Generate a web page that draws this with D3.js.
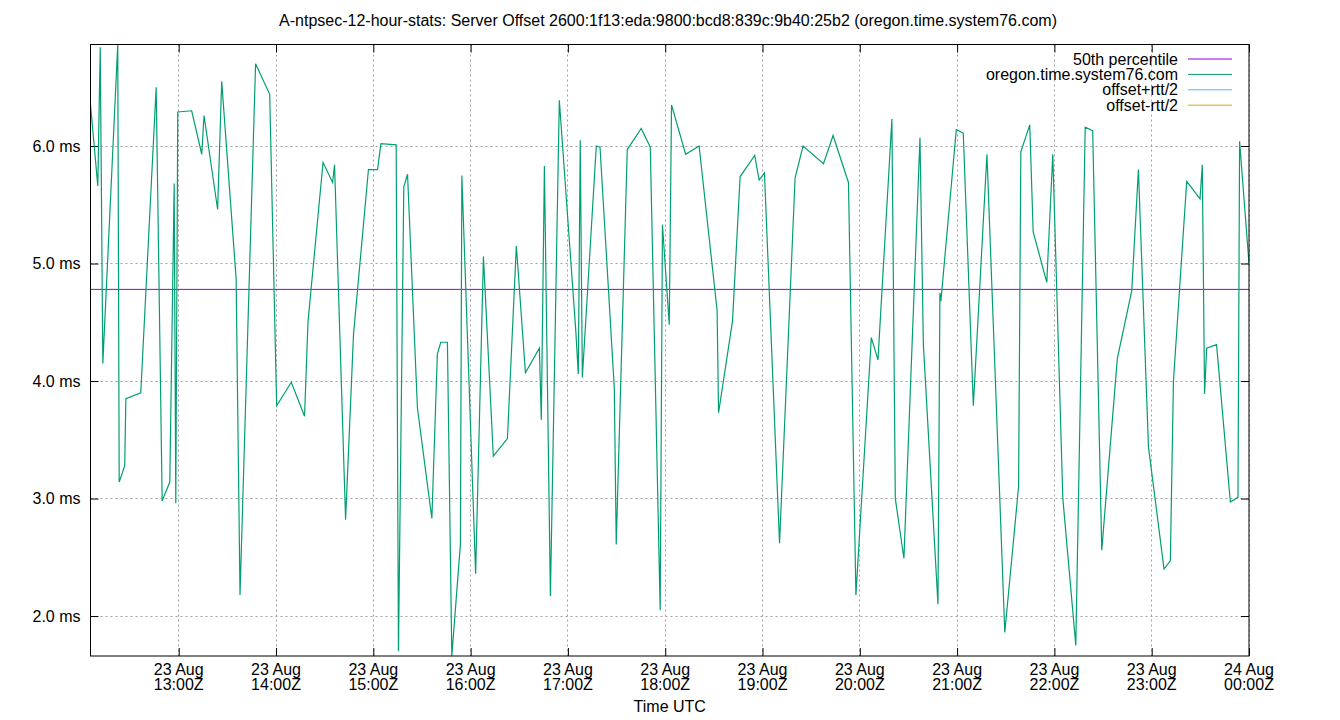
<!DOCTYPE html>
<html>
<head>
<meta charset="utf-8">
<script src="https://cdn.jsdelivr.net/npm/d3@7"></script>
<style>
body { margin: 0; background: #fff; }
text { font-family: "Liberation Sans", Arial, sans-serif; font-size: 16px; fill: #000; }
</style>
</head>
<body>
<script>
// minutes after 23 Aug 12:00Z, and offset in ms
var offsetMin = [5.6, 10.1, 11.6, 13.2, 22.4, 23.3, 26.7, 27.4, 36.6, 46.1,
  49.8, 54.5, 57.2, 58.2, 59.4, 68.0, 74.2, 75.6, 84.0, 86.5,
  95.4, 97.8, 107.4, 116.1, 120.4, 129.4, 137.6, 139.7, 149.0, 154.9,
  156.1, 162.9, 167.8, 177.0, 182.6, 184.7, 194.1, 195.5, 198.8, 201.1,
  207.2, 216.1, 219.5, 221.6, 225.7, 228.4, 233.7, 234.6, 243.1, 247.9,
  254.0, 262.7, 268.2, 273.8, 282.4, 283.6, 285.5, 289.2, 294.7, 304.8,
  306.4, 307.6, 308.9, 317.5, 319.8, 328.6, 329.8, 336.6, 345.2, 350.8,
  356.9, 358.3, 362.5, 363.9, 372.6, 380.9, 392.0, 392.9, 401.5, 406.2,
  415.2, 417.9, 421.2, 430.5, 440.1, 445.0, 457.6, 463.5, 473.0, 477.6,
  487.1, 491.2, 499.8, 501.9, 507.2, 517.1, 519.2, 528.2, 529.4, 530.0,
  539.5, 543.8, 550.0, 558.4, 569.4, 577.9, 579.3, 584.8, 586.9, 595.3,
  599.0, 605.2, 613.2, 619.0, 623.6, 629.2, 638.8, 647.7, 651.8, 658.0,
  667.6, 671.5, 673.4, 681.6, 689.8, 691.2, 692.6, 693.9, 700.0, 708.5,
  713.2, 714.2, 720.0];
var offsetMs = [6.35, 5.66, 6.84, 4.15, 6.864, 3.14, 3.28, 3.85, 3.90, 6.50,
  2.98, 3.14, 5.68, 2.96, 6.29, 6.30, 5.93, 6.26, 5.46, 6.55,
  4.87, 2.18, 6.70, 6.44, 3.79, 3.99, 3.70, 4.50, 5.86, 5.69,
  5.84, 2.82, 4.40, 5.80, 5.80, 6.02, 6.01, 1.70, 5.65, 5.76,
  3.77, 2.83, 4.23, 4.33, 4.33, 1.66, 2.61, 5.75, 2.36, 5.06,
  3.36, 3.51, 5.15, 4.07, 4.28, 3.67, 5.83, 2.17, 6.39, 4.44,
  4.06, 6.05, 4.03, 6.00, 5.99, 3.94, 2.61, 5.97, 6.15, 5.99,
  2.05, 5.33, 4.48, 6.35, 5.93, 6.00, 4.60, 3.73, 4.51, 5.74,
  5.92, 5.71, 5.77, 2.62, 5.73, 6.00, 5.85, 6.09, 5.69, 2.18,
  4.37, 4.18, 6.23, 3.00, 2.49, 6.07, 4.31, 2.10, 4.75, 4.68,
  6.14, 6.11, 3.79, 5.93, 1.86, 3.10, 5.95, 6.18, 5.27, 4.84,
  5.93, 3.00, 1.75, 6.16, 6.13, 2.56, 4.19, 4.77, 5.80, 3.44,
  2.40, 2.47, 4.00, 5.70, 5.55, 5.84, 3.89, 4.28, 4.31, 2.97,
  3.01, 6.04, 5.00];
var medianMs = 4.78;
var yTicks = [2, 3, 4, 5, 6];
var legendLabels = ["50th percentile", "oregon.time.system76.com", "offset+rtt/2", "offset-rtt/2"];
var legendColors = ["#9400d3", "#009e73", "#56b4e9", "#e69f00"];
var titleText = "A-ntpsec-12-hour-stats: Server Offset 2600:1f13:eda:9800:bcd8:839c:9b40:25b2 (oregon.time.system76.com)";

var margin = {top: 44.5, right: 91, bottom: 64, left: 90.5};
var width = 1340 - margin.left - margin.right;
var height = 720 - margin.top - margin.bottom;

var t0 = Date.UTC(2023, 7, 23, 12, 0, 0);
var times = offsetMin.map(function(m) { return new Date(t0 + m * 60000); });

var xScale = d3.scaleUtc().domain(d3.extent(times)).range([0, width]);
var yScale = d3.scaleLinear().domain(d3.extent(offsetMs)).range([height, 0]);

var svg = d3.select("body").append("svg")
.attr("width", 1340)
.attr("height", 720);

svg.append("text")
.attr("x", 668)
.attr("y", 26)
.attr("text-anchor", "middle")
.text(titleText);

var mySVG = svg.append("g")
.attr("transform", "translate(" + margin.left + "," + margin.top + ")");

var xTicks = xScale.ticks(d3.utcHour.every(1));

// grid
mySVG.append("g").selectAll("line.gx").data(xTicks).enter().append("line")
.attr("x1", function(d) { return Math.round(xScale(d)); })
.attr("x2", function(d) { return Math.round(xScale(d)); })
.attr("y1", 0).attr("y2", height)
.attr("stroke", "#a0a0a0").attr("stroke-width", 1).attr("stroke-dasharray", "2,3");
mySVG.append("g").selectAll("line.gy").data(yTicks).enter().append("line")
.attr("y1", function(d) { return Math.round(yScale(d)); })
.attr("y2", function(d) { return Math.round(yScale(d)); })
.attr("x1", 0).attr("x2", width)
.attr("stroke", "#a0a0a0").attr("stroke-width", 1).attr("stroke-dasharray", "2,3");

// axes (ticks inside, mirrored)
var xAxis = d3.axisBottom(xScale).tickValues(xTicks).tickSize(-8).tickFormat("");
var xAxisGroup = mySVG.append("g").attr("transform", "translate(0," + height + ")").call(xAxis);
var xAxisTop = mySVG.append("g").call(d3.axisTop(xScale).tickValues(xTicks).tickSize(-8).tickFormat(""));
var yAxisGroup = mySVG.append("g").call(d3.axisLeft(yScale).tickValues(yTicks).tickSize(-8).tickFormat(""));
var yAxisRight = mySVG.append("g").attr("transform", "translate(" + width + ",0)")
.call(d3.axisRight(yScale).tickValues(yTicks).tickSize(-8).tickFormat(""));
mySVG.selectAll(".domain").remove();
mySVG.selectAll(".tick line").attr("stroke", "#000");

// tick labels, two lines as in the original
var fmtDay = d3.utcFormat("%d %b");
var fmtHour = d3.utcFormat("%H:%MZ");
var xl = mySVG.append("g").selectAll("text").data(xTicks).enter().append("text")
.attr("text-anchor", "middle")
.attr("transform", function(d) { return "translate(" + xScale(d) + "," + (height + 19) + ")"; });
xl.append("tspan").attr("x", 0).attr("y", 0).text(function(d) { return fmtDay(d); });
xl.append("tspan").attr("x", 0).attr("y", 15).text(function(d) { return fmtHour(d); });

mySVG.append("g").selectAll("text").data(yTicks).enter().append("text")
.attr("x", -10)
.attr("y", function(d) { return yScale(d) + 5.5; })
.attr("text-anchor", "end")
.text(function(d) { return d3.format(".1f")(d) + " ms"; });

svg.append("text")
.attr("x", margin.left + width / 2)
.attr("y", 712)
.attr("text-anchor", "middle")
.text("Time UTC");

// plot clip
mySVG.append("clipPath").attr("id", "plotclip")
.append("rect").attr("width", width).attr("height", height);

var plot = mySVG.append("g").attr("clip-path", "url(#plotclip)");

plot.append("line")
.attr("x1", 0).attr("x2", width)
.attr("y1", yScale(medianMs)).attr("y2", yScale(medianMs))
.attr("stroke", legendColors[0]).attr("stroke-width", 1);

var linePath = d3.line()
.x(function(d, i) { return xScale(times[i]); })
.y(function(d) { return yScale(d); });

plot.append("path")
.attr("stroke", legendColors[1])
.attr("stroke-width", 1.2)
.attr("fill", "none")
.attr("d", linePath(offsetMs));

// border
mySVG.append("rect")
.attr("width", width).attr("height", height)
.attr("fill", "none").attr("stroke", "#000").attr("stroke-width", 1);

// legend
var legend = mySVG.append("g").selectAll("g").data(legendLabels).enter().append("g")
.attr("transform", function(d, i) { return "translate(0," + (14.5 + i * 15.4) + ")"; });
legend.append("text")
.attr("x", 1178 - margin.left)
.attr("y", 5.5)
.attr("text-anchor", "end")
.text(function(d) { return d; });
legend.append("line")
.attr("x1", 1188 - margin.left).attr("x2", 1232 - margin.left)
.attr("y1", 0).attr("y2", 0)
.attr("stroke", function(d, i) { return legendColors[i]; })
.attr("stroke-width", 1);
</script>
</body>
</html>
